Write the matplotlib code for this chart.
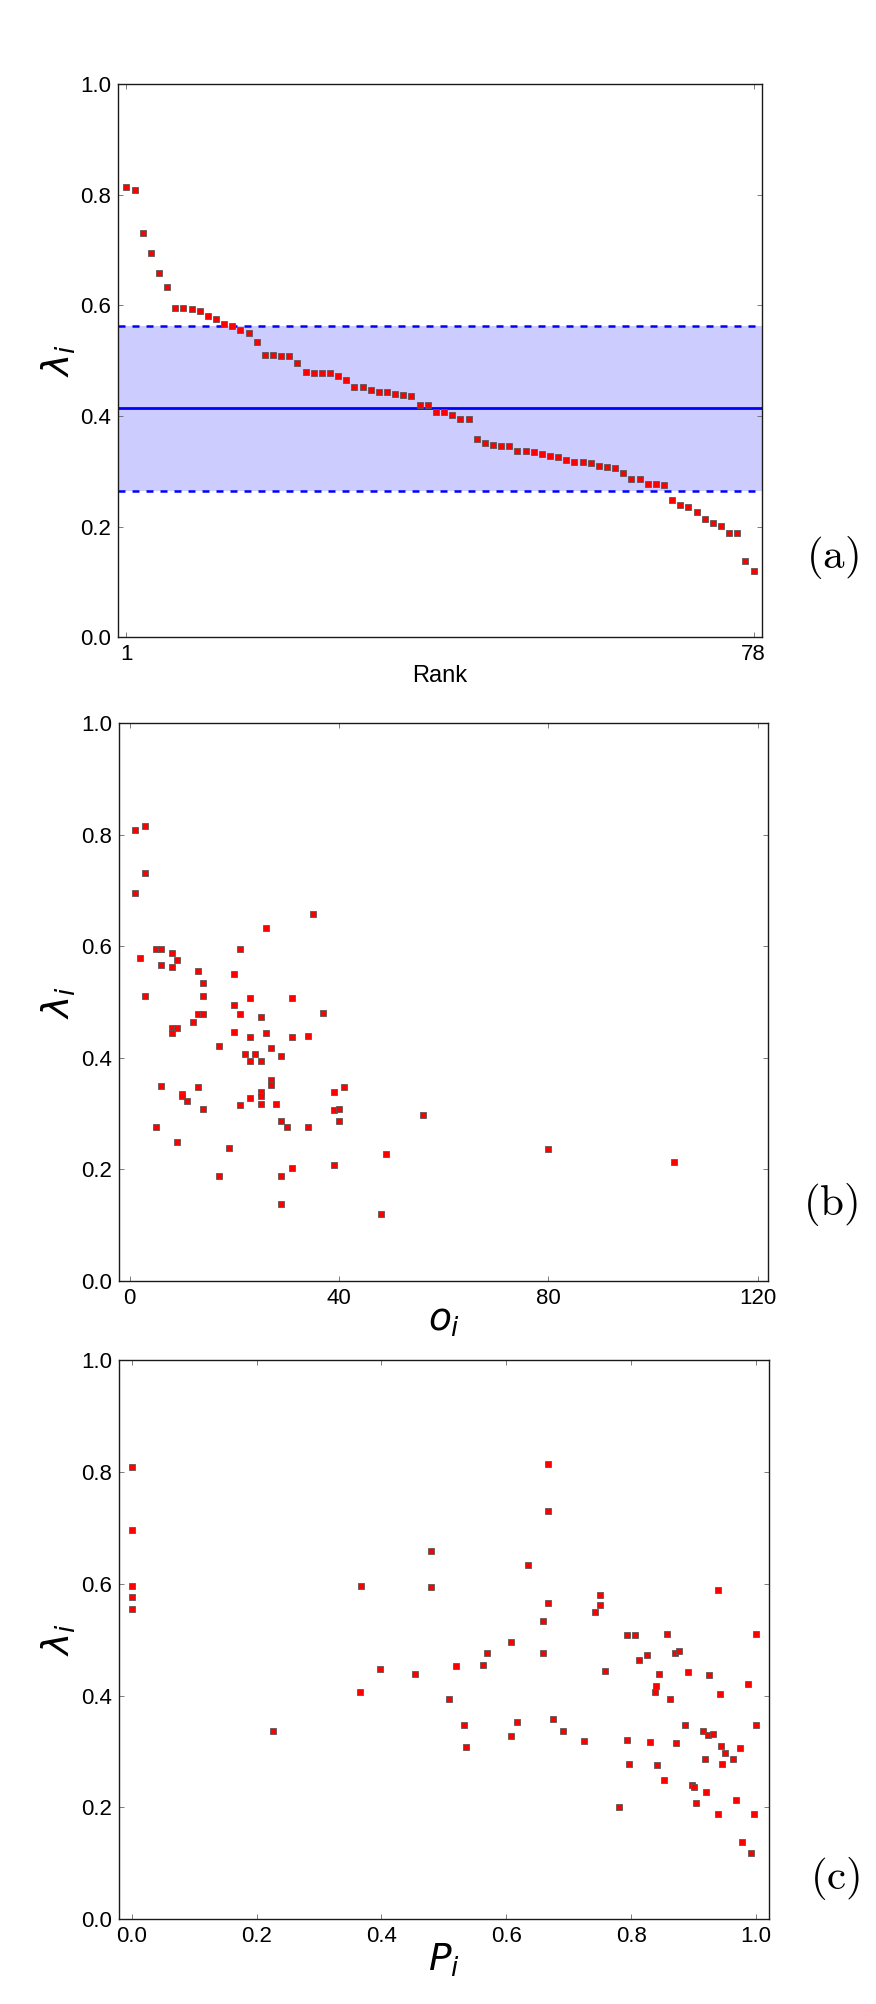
import matplotlib
matplotlib.use("Agg")
import matplotlib.pyplot as plt
import numpy as np

plt.rcParams['font.family'] = ['Liberation Sans', 'DejaVu Sans']
plt.rcParams['mathtext.fontset'] = 'dejavusans'

# (a) lambda_i sorted by rank
lam_ranked = [0.814, 0.808, 0.730, 0.695, 0.658, 0.633, 0.595, 0.595, 0.594, 0.589,
              0.580, 0.576, 0.567, 0.563, 0.555, 0.550, 0.534, 0.510, 0.510, 0.508,
              0.508, 0.495, 0.479, 0.477, 0.477, 0.477, 0.472, 0.465, 0.453, 0.452,
              0.447, 0.444, 0.444, 0.439, 0.438, 0.437, 0.420, 0.419, 0.407, 0.407,
              0.402, 0.394, 0.394, 0.358, 0.351, 0.348, 0.346, 0.346, 0.337, 0.337,
              0.335, 0.331, 0.328, 0.326, 0.321, 0.317, 0.317, 0.315, 0.309, 0.308,
              0.306, 0.297, 0.286, 0.286, 0.277, 0.277, 0.275, 0.248, 0.239, 0.236,
              0.227, 0.214, 0.207, 0.201, 0.188, 0.188, 0.137, 0.120]
lam_mean = 0.414
lam_lo = 0.265
lam_hi = 0.562

# (b) overlap o_i vs lambda_i
o_vals = [1, 3, 3, 1, 35, 26, 5, 6, 21, 8, 2, 9, 6, 8, 13, 20, 14, 3, 14, 23,
          31, 20, 13, 14, 21, 37, 25, 12, 8, 9, 8, 20, 26, 23, 31, 34, 17, 27, 22, 24,
          29, 23, 25, 27, 27, 6, 13, 41, 39, 25, 10, 10, 25, 23, 11, 21, 25, 28, 14, 39,
          40, 56, 29, 40, 5, 30, 34, 9, 19, 80, 49, 104, 39, 31, 17, 29, 29, 48]
lam_o = [0.809, 0.815, 0.731, 0.696, 0.658, 0.633, 0.595, 0.596, 0.596, 0.589,
         0.579, 0.576, 0.567, 0.563, 0.555, 0.550, 0.535, 0.511, 0.511, 0.508,
         0.508, 0.495, 0.478, 0.478, 0.478, 0.481, 0.473, 0.465, 0.454, 0.453,
         0.444, 0.447, 0.444, 0.438, 0.437, 0.439, 0.421, 0.418, 0.407, 0.407,
         0.403, 0.395, 0.395, 0.360, 0.352, 0.349, 0.347, 0.347, 0.339, 0.339,
         0.336, 0.331, 0.331, 0.328, 0.322, 0.316, 0.318, 0.317, 0.309, 0.307,
         0.309, 0.298, 0.286, 0.287, 0.276, 0.277, 0.277, 0.249, 0.239, 0.237,
         0.228, 0.214, 0.208, 0.202, 0.189, 0.189, 0.138, 0.121]

# (c) P_i vs lambda_i
p_vals = [0.0, 0.0, 0.0, 0.0, 0.0, 0.226, 0.368, 0.366, 0.398, 0.454,
          0.480, 0.480, 0.509, 0.519, 0.533, 0.536, 0.563, 0.569, 0.608, 0.607,
          0.618, 0.635, 0.659, 0.659, 0.667, 0.667, 0.667, 0.675, 0.691, 0.725,
          0.743, 0.751, 0.751, 0.759, 0.780, 0.794, 0.794, 0.797, 0.806, 0.813,
          0.826, 0.831, 0.839, 0.840, 0.841, 0.844, 0.853, 0.858, 0.862, 0.871,
          0.876, 0.872, 0.886, 0.891, 0.898, 0.901, 0.904, 0.916, 0.918, 0.920,
          0.923, 0.925, 0.931, 0.939, 0.939, 0.942, 0.944, 0.946, 0.951, 0.964,
          0.968, 0.975, 0.978, 0.987, 0.992, 0.997, 1.0, 1.0]
lam_p = [0.809, 0.696, 0.596, 0.576, 0.555, 0.337, 0.596, 0.407, 0.447, 0.438,
         0.659, 0.594, 0.394, 0.452, 0.347, 0.308, 0.454, 0.477, 0.495, 0.327,
         0.352, 0.633, 0.534, 0.477, 0.814, 0.730, 0.566, 0.358, 0.336, 0.318,
         0.550, 0.579, 0.562, 0.444, 0.201, 0.509, 0.321, 0.277, 0.509, 0.464,
         0.472, 0.317, 0.407, 0.418, 0.275, 0.439, 0.249, 0.510, 0.394, 0.477,
         0.479, 0.315, 0.347, 0.443, 0.240, 0.236, 0.208, 0.337, 0.287, 0.228,
         0.329, 0.437, 0.331, 0.588, 0.189, 0.403, 0.309, 0.277, 0.298, 0.286,
         0.213, 0.307, 0.138, 0.420, 0.119, 0.188, 0.510, 0.348]

W, H = 876, 2004
fig = plt.figure(figsize=(W / 100, H / 100), dpi=100)


def box(l, t, r, b):
    return [l / W, 1 - b / H, (r - l) / W, (b - t) / H]


mk = dict(ls='none', marker='s', ms=4.5, mfc='red', mec='0.35', mew=0.6, zorder=3)
yt = [0.0, 0.2, 0.4, 0.6, 0.8, 1.0]


def style(ax):
    ax.set_ylim(0, 1)
    ax.set_yticks(yt)
    ax.set_yticklabels(['%.1f' % v for v in yt])
    ax.tick_params(direction='in', length=3.5, width=0.6, color='0.4',
                   top=True, right=True, labelsize=16, pad=5)
    for s in ax.spines.values():
        s.set_linewidth(1.0)
        s.set_color('0.1')
    ax.set_ylabel(r'$\lambda_i$', fontsize=27, va='center')
    ax.yaxis.set_label_coords(-0.093, 0.5)


def panel_tag(x, y, tag):
    fig.text(x / W, 1 - y / H, r'$\mathrm{(%s)}$' % tag, fontsize=31,
             math_fontfamily='cm', ha='center', va='center')


# (a)
ax1 = fig.add_axes(box(118.3, 84, 761.7, 637.3))
rank = np.arange(1, len(lam_ranked) + 1)
ax1.axhspan(lam_lo, lam_hi, color='#ccccff', lw=0, zorder=1)
ax1.axhline(lam_mean, color='blue', lw=2.0, zorder=2)
ax1.axhline(lam_lo, color='blue', lw=1.8, dashes=(2.8, 2.8), zorder=2)
ax1.axhline(lam_hi, color='blue', lw=1.8, dashes=(2.8, 2.8), zorder=2)
ax1.plot(rank, lam_ranked, **mk)
ax1.set_xlim(0, 79)
ax1.set_xticks([1, len(lam_ranked)])
style(ax1)
ax1.set_xlabel('Rank', fontsize=17, labelpad=0)
panel_tag(832, 557, 'a')

# (b)
ax2 = fig.add_axes(box(119.3, 723.3, 768, 1281))
ax2.plot(o_vals, lam_o, **mk)
ax2.set_xlim(-2, 122)
ax2.set_xticks([0, 40, 80, 120])
style(ax2)
ax2.set_xlabel(r'$o_i$', fontsize=27, labelpad=-4)
panel_tag(831, 1205, 'b')

# (c)
ax3 = fig.add_axes(box(119.3, 1360, 769, 1919.3))
ax3.plot(p_vals, lam_p, **mk)
ax3.set_xlim(-0.02, 1.021)
ax3.set_xticks(yt)
ax3.set_xticklabels(['%.1f' % v for v in yt])
style(ax3)
ax3.set_xlabel(r'$P_i$', fontsize=27, labelpad=-4)
panel_tag(835, 1878, 'c')

fig.savefig('out.png', dpi=100)
